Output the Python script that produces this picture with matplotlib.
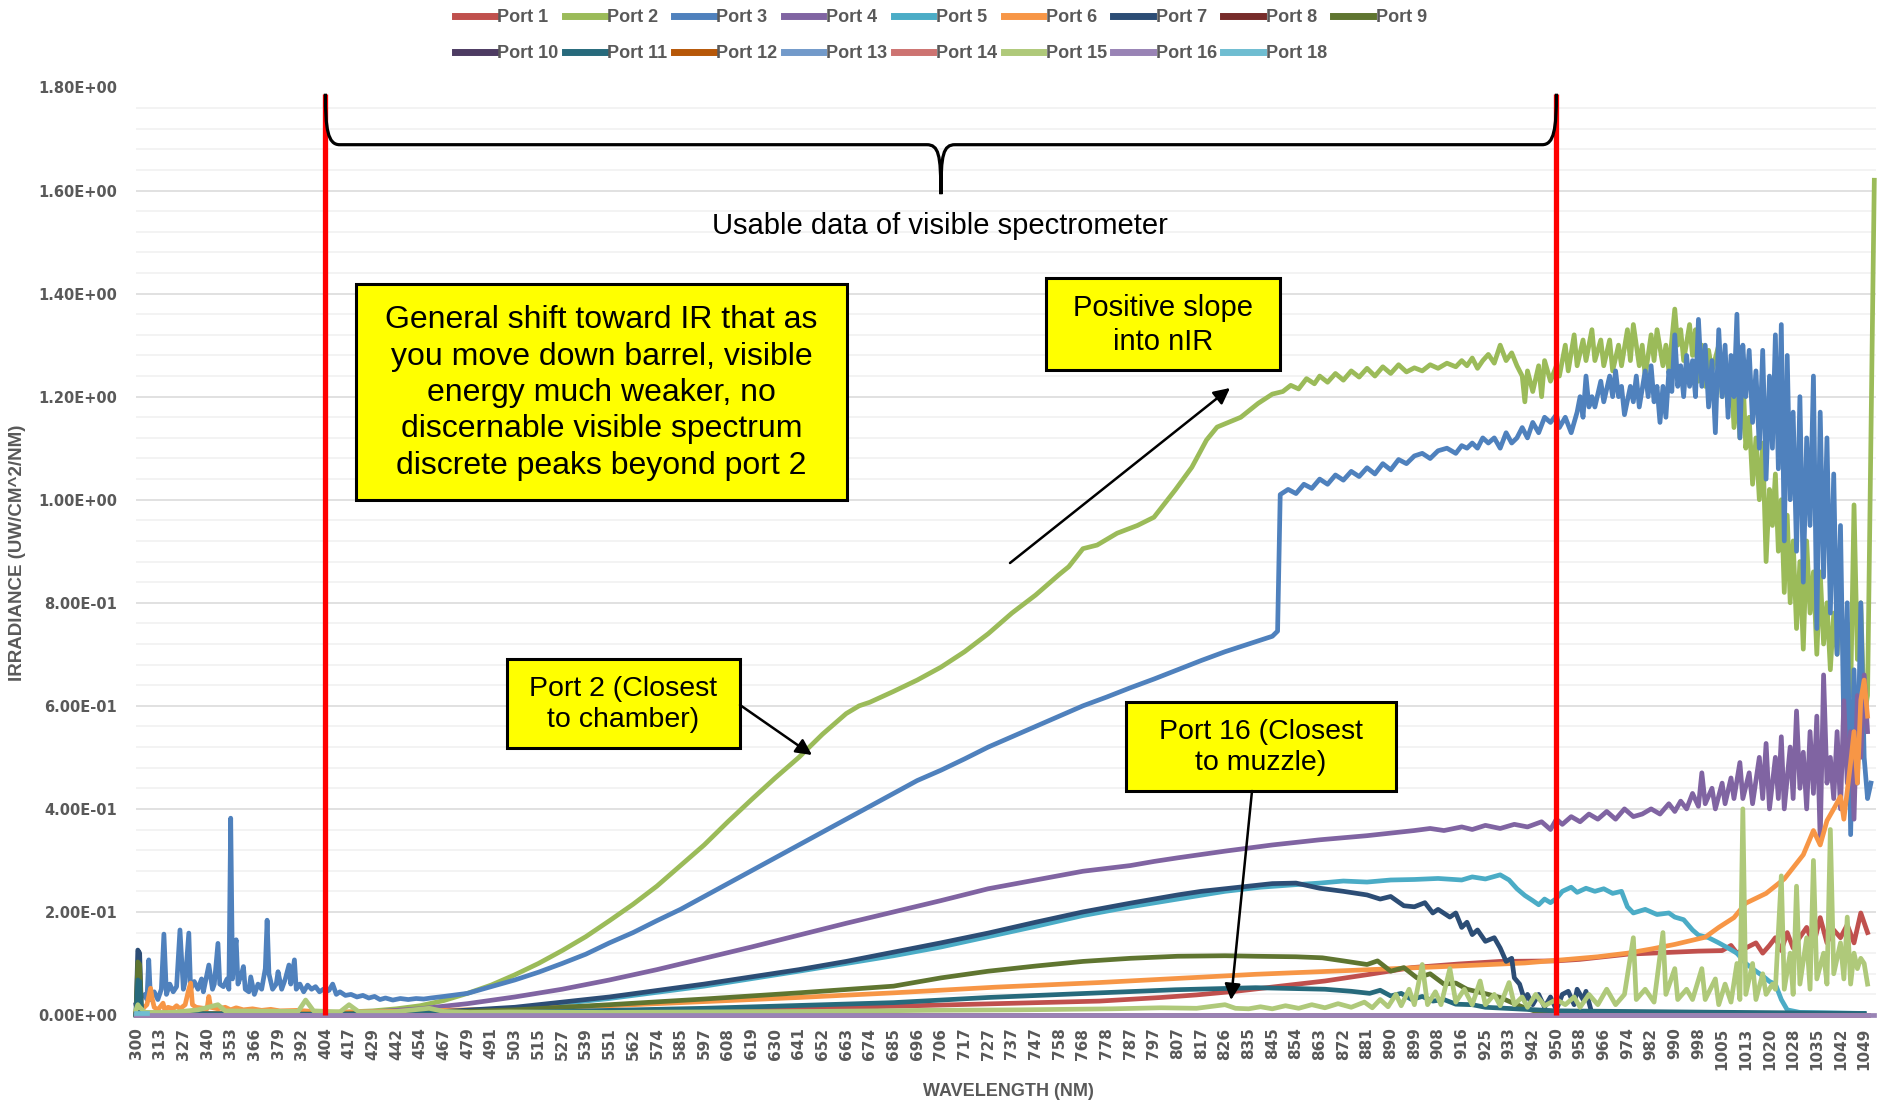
import matplotlib.pyplot as plt
import numpy as np
from matplotlib import patches
from matplotlib.path import Path
from matplotlib.ticker import MultipleLocator

# wavelength shown under every tick of the category axis (nm)
tick_nm = [300, 313, 327, 340, 353, 366, 379, 392, 404, 417, 429, 442, 454, 467, 479, 491,
           503, 515, 527, 539, 551, 562, 574, 585, 597, 608, 619, 630, 641, 652, 663, 674,
           685, 696, 706, 717, 727, 737, 747, 758, 768, 778, 787, 797, 807, 817, 826, 835,
           845, 854, 863, 872, 881, 890, 899, 908, 916, 925, 933, 942, 950, 958, 966, 974,
           982, 990, 998, 1005, 1013, 1020, 1028, 1035, 1042, 1049]

# band of usable data (red markers)
usable_nm = [404, 950]

# irradiance readings (nm, uW/cm^2/nm)
port1 = [(300, 0.02), (301, 0.004), (404, 0.002), (503, 0.004), (597, 0.008), (685, 0.017),
         (775, 0.027), (800, 0.034), (815, 0.039), (830, 0.046), (848, 0.056), (865, 0.066),
         (882, 0.079), (898, 0.092), (915, 0.099), (930, 0.104), (950, 0.105), (958, 0.108),
         (966, 0.113), (974, 0.118), (982, 0.12), (990, 0.122), (998, 0.124), (1005, 0.125),
         (1008, 0.135), (1010, 0.12), (1013, 0.13), (1016, 0.14), (1018, 0.12), (1020, 0.135),
         (1022, 0.15), (1024, 0.125), (1026, 0.16), (1028, 0.13), (1030, 0.151), (1032, 0.17),
         (1034, 0.135), (1036, 0.189), (1038, 0.14), (1040, 0.165), (1042, 0.15), (1044, 0.175),
         (1046, 0.14), (1048, 0.198), (1050, 0.16)]

port2 = [(300, 0.003), (350, 0.002), (404, 0.005), (417, 0.006), (429, 0.008), (442, 0.012),
         (454, 0.018), (467, 0.028), (479, 0.042), (491, 0.058), (503, 0.078), (515, 0.10),
         (527, 0.125), (539, 0.152), (551, 0.183), (562, 0.215), (574, 0.25), (585, 0.29),
         (597, 0.33), (608, 0.375), (619, 0.418), (630, 0.46), (641, 0.50), (652, 0.545),
         (663, 0.585), (669, 0.60), (674, 0.607), (685, 0.628), (696, 0.65), (706, 0.675),
         (717, 0.705), (727, 0.74), (737, 0.78), (747, 0.815), (758, 0.855), (762, 0.87),
         (768, 0.905), (774, 0.912), (782, 0.935), (790, 0.95), (797, 0.966), (806, 1.019),
         (813, 1.063), (819, 1.116), (823, 1.141), (832, 1.16), (839, 1.187), (845, 1.205),
         (849, 1.21), (852, 1.222), (855, 1.215), (858, 1.235), (861, 1.225), (863, 1.24),
         (866, 1.228), (869, 1.245), (872, 1.232), (875, 1.25), (878, 1.238), (881, 1.255),
         (884, 1.24), (887, 1.258), (890, 1.245), (893, 1.262), (896, 1.248),
         (899, 1.256), (902, 1.25), (905, 1.262), (908, 1.255), (911, 1.265), (914, 1.258),
         (916, 1.27), (918, 1.26), (920, 1.275), (922, 1.255), (924, 1.27), (926, 1.282),
         (928, 1.265), (930, 1.30), (932, 1.27), (934, 1.285), (936, 1.26), (938, 1.24),
         (939, 1.19), (940, 1.25), (942, 1.21), (944, 1.26), (945, 1.20), (946, 1.27),
         (948, 1.23), (950, 1.26), (951, 1.24), (953, 1.30), (954, 1.25), (956, 1.32),
         (957, 1.26), (959, 1.31), (960, 1.27), (962, 1.33), (963, 1.27), (965, 1.31),
         (966, 1.26), (968, 1.31), (969, 1.25), (971, 1.30), (972, 1.26), (974, 1.33),
         (975, 1.27), (976, 1.34), (978, 1.26), (979, 1.30), (980, 1.24), (982, 1.32),
         (983, 1.27), (984, 1.33), (986, 1.26), (987, 1.30), (988, 1.25), (989, 1.31),
         (990, 1.37), (991, 1.30), (992, 1.33), (993, 1.27), (995, 1.34), (996, 1.28),
         (997, 1.33), (998, 1.23), (999, 1.30), (1000, 1.22), (1001, 1.29), (1002, 1.25),
         (1004, 1.30), (1005, 1.20), (1006, 1.27), (1007, 1.18), (1008, 1.26), (1009, 1.14),
         (1010, 1.22), (1011, 1.12), (1012, 1.25), (1013, 1.10), (1014, 1.16), (1015, 1.03),
         (1016, 1.12), (1017, 1.00), (1018, 1.11), (1019, 0.88), (1020, 1.02), (1021, 0.95),
         (1022, 1.05), (1023, 0.90), (1024, 1.00), (1025, 0.82), (1026, 0.97), (1027, 0.80),
         (1028, 0.92), (1029, 0.75), (1030, 0.88), (1031, 0.71), (1032, 0.92), (1033, 0.78),
         (1034, 0.86), (1035, 0.70), (1036, 0.86), (1037, 0.72), (1038, 0.80), (1039, 0.67),
         (1040, 0.78), (1041, 0.70), (1042, 0.82), (1043, 0.68), (1044, 0.76), (1045, 0.62),
         (1046, 0.99), (1047, 0.69), (1048, 0.80), (1049, 0.58), (1050, 0.62), (1052, 1.62)]

port3 = [(300, 0.02), (301, 0.005), (303, 0.035), (305, 0.04), (306, 0.03), (307, 0.107),
         (308, 0.03), (310, 0.045), (312, 0.03), (314, 0.05), (315.5, 0.157), (317, 0.04),
         (319, 0.06), (321, 0.045), (323, 0.055), (325, 0.165), (327, 0.05), (328, 0.065),
         (330, 0.159), (331, 0.05), (333, 0.065), (335, 0.05), (337, 0.07), (338, 0.045),
         (340, 0.08), (341, 0.097), (343, 0.05), (344, 0.06), (346, 0.139), (347, 0.06),
         (349, 0.055), (351, 0.07), (352, 0.05), (353, 0.382), (354, 0.07), (355, 0.12),
         (356, 0.146), (357, 0.06), (359, 0.08), (360, 0.094), (361, 0.05), (363, 0.045),
         (364, 0.074), (366, 0.04), (368, 0.06), (370, 0.05), (372, 0.09), (373, 0.184),
         (374, 0.08), (376, 0.05), (378, 0.06), (379, 0.084), (381, 0.05), (383, 0.07),
         (385, 0.097), (386, 0.06), (388, 0.107), (389, 0.05), (391, 0.06), (393, 0.045),
         (395, 0.058), (397, 0.05), (399, 0.055), (401, 0.045), (403, 0.05), (404, 0.045),
         (406, 0.048), (408, 0.06), (410, 0.04), (412, 0.045), (415, 0.038), (418, 0.04),
         (421, 0.035), (424, 0.038), (427, 0.033), (430, 0.036), (433, 0.03), (436, 0.033),
         (440, 0.029), (444, 0.032), (448, 0.03), (452, 0.032), (456, 0.031), (460, 0.033),
         (467, 0.036), (479, 0.042), (491, 0.055), (503, 0.068), (515, 0.083), (527, 0.10),
         (539, 0.118), (551, 0.14), (562, 0.16), (574, 0.183), (585, 0.205), (597, 0.23),
         (608, 0.255), (619, 0.28), (630, 0.305), (641, 0.33), (652, 0.355), (663, 0.38),
         (674, 0.405), (685, 0.43), (696, 0.455), (706, 0.475), (717, 0.497), (727, 0.52),
         (737, 0.54), (747, 0.56), (758, 0.58), (768, 0.60), (778, 0.617), (787, 0.635),
         (797, 0.652), (807, 0.67), (817, 0.688), (826, 0.705), (835, 0.72), (845, 0.735),
         (847, 0.745), (848, 1.01), (851, 1.02), (854, 1.012), (857, 1.03), (860, 1.022),
         (863, 1.04), (866, 1.03), (869, 1.048), (872, 1.038), (875, 1.055), (878, 1.045),
         (881, 1.062), (884, 1.05), (887, 1.07), (890, 1.058), (893, 1.078), (896, 1.07),
         (899, 1.085), (902, 1.09), (905, 1.08), (908, 1.095), (911, 1.10),
         (914, 1.09), (916, 1.105), (918, 1.10), (920, 1.11), (922, 1.10), (924, 1.12),
         (926, 1.11), (928, 1.12), (930, 1.10), (932, 1.13), (934, 1.11), (936, 1.12),
         (938, 1.14), (940, 1.12), (942, 1.15), (944, 1.13), (946, 1.16), (948, 1.15),
         (950, 1.165), (951, 1.14), (953, 1.16), (955, 1.13), (957, 1.17), (958, 1.20),
         (959, 1.16), (960, 1.24), (961, 1.18), (962, 1.20), (963, 1.18), (965, 1.23),
         (966, 1.19), (968, 1.24), (969, 1.20), (970, 1.25), (971, 1.20), (972, 1.22),
         (973, 1.165), (975, 1.22), (976, 1.19), (977, 1.24), (978, 1.18), (980, 1.25),
         (981, 1.20), (982, 1.26), (983, 1.19), (984, 1.22), (985, 1.15), (986, 1.22),
         (987, 1.16), (988, 1.25), (989, 1.21), (990, 1.32), (991, 1.22), (992, 1.26),
         (993, 1.20), (994, 1.28), (995, 1.22), (996, 1.27), (997, 1.20), (998, 1.35),
         (999, 1.22), (1000, 1.30), (1001, 1.18), (1002, 1.27), (1003, 1.13), (1004, 1.33),
         (1005, 1.20), (1006, 1.30), (1007, 1.16), (1008, 1.28), (1009, 1.20), (1010, 1.36),
         (1011, 1.12), (1012, 1.30), (1013, 1.20), (1014, 1.29), (1015, 1.15), (1016, 1.25),
         (1017, 1.10), (1018, 1.29), (1019, 1.04), (1020, 1.24), (1021, 1.10), (1022, 1.32),
         (1023, 1.06), (1024, 1.34), (1025, 0.92), (1026, 1.28), (1027, 1.00), (1028, 1.17),
         (1029, 0.90), (1030, 1.20), (1031, 0.84), (1032, 1.12), (1033, 0.95), (1034, 1.24),
         (1035, 0.75), (1036, 1.17), (1037, 0.85), (1038, 1.12), (1039, 0.78), (1040, 1.05),
         (1041, 0.70), (1042, 0.95), (1043, 0.55), (1044, 0.80), (1045, 0.35), (1046, 0.67),
         (1047, 0.45), (1048, 0.80), (1049, 0.50), (1050, 0.42), (1051, 0.45)]

port4 = [(300, 0.0), (404, 0.003), (429, 0.006), (454, 0.012), (479, 0.022), (503, 0.035),
         (527, 0.05), (551, 0.068), (574, 0.088), (597, 0.11), (619, 0.132), (641, 0.155),
         (663, 0.178), (685, 0.20), (706, 0.222), (727, 0.245), (747, 0.262), (768, 0.279),
         (787, 0.29), (797, 0.298), (807, 0.305), (826, 0.318), (845, 0.33), (863, 0.34),
         (881, 0.348), (890, 0.353), (899, 0.358), (905, 0.362), (910, 0.358), (916, 0.365),
         (920, 0.36), (925, 0.368), (930, 0.362), (935, 0.37), (940, 0.365), (945, 0.375),
         (948, 0.36), (950, 0.38), (952, 0.37), (955, 0.385), (958, 0.375), (961, 0.39),
         (964, 0.38), (967, 0.395), (970, 0.38), (973, 0.40), (976, 0.385), (979, 0.39),
         (982, 0.40), (985, 0.39), (988, 0.41), (990, 0.395), (992, 0.415), (994, 0.40),
         (996, 0.43), (998, 0.405), (999, 0.47), (1000, 0.41), (1002, 0.44), (1003, 0.40),
         (1005, 0.45), (1006, 0.41), (1008, 0.46), (1009, 0.42), (1011, 0.49), (1012, 0.42),
         (1014, 0.47), (1015, 0.41), (1017, 0.50), (1018, 0.42), (1019, 0.527), (1020, 0.40),
         (1022, 0.50), (1023, 0.42), (1024, 0.54), (1025, 0.40), (1027, 0.52), (1028, 0.42),
         (1029, 0.59), (1030, 0.44), (1031, 0.51), (1032, 0.40), (1033, 0.55), (1034, 0.43),
         (1035, 0.58), (1036, 0.34), (1037, 0.66), (1038, 0.45), (1039, 0.50), (1040, 0.42),
         (1041, 0.55), (1042, 0.40), (1043, 0.61), (1044, 0.45), (1045, 0.55), (1046, 0.38),
         (1047, 0.62), (1048, 0.50), (1049, 0.66), (1050, 0.55)]

port5 = [(300, 0.0), (404, 0.001), (454, 0.004), (503, 0.013), (551, 0.032), (597, 0.056),
         (641, 0.085), (663, 0.10), (685, 0.115), (706, 0.132), (727, 0.152), (747, 0.172),
         (768, 0.193), (787, 0.21), (807, 0.225), (826, 0.24), (840, 0.248), (854, 0.253),
         (863, 0.256), (872, 0.26), (881, 0.258), (890, 0.262), (899, 0.263), (908, 0.265),
         (916, 0.262), (920, 0.268), (925, 0.264), (930, 0.272), (933, 0.262), (936, 0.245),
         (939, 0.232), (942, 0.222), (944, 0.214), (946, 0.225), (948, 0.218), (950, 0.226),
         (952, 0.24), (955, 0.248), (957, 0.238), (960, 0.246), (963, 0.24), (966, 0.245),
         (969, 0.236), (972, 0.24), (974, 0.21), (976, 0.198), (980, 0.205), (984, 0.195),
         (988, 0.198), (990, 0.19), (993, 0.185), (996, 0.165), (998, 0.155), (1001, 0.15),
         (1004, 0.14), (1007, 0.13), (1010, 0.12), (1013, 0.10), (1016, 0.085), (1018, 0.076),
         (1020, 0.065), (1022, 0.06), (1024, 0.03), (1026, 0.01), (1030, 0.005), (1049, 0.003)]

port6 = [(300, 0.005), (303, 0.01), (306, 0.02), (308, 0.052), (309, 0.03), (310, 0.015),
         (312, 0.01), (315, 0.023), (316, 0.01), (318, 0.015), (321, 0.012), (323, 0.018),
         (325, 0.012), (328, 0.02), (330, 0.05), (331, 0.062), (332, 0.02), (334, 0.015),
         (340, 0.012), (341, 0.036), (342, 0.015), (346, 0.012), (350, 0.015), (353, 0.01),
         (356, 0.014), (360, 0.01), (365, 0.012), (370, 0.009), (375, 0.011), (380, 0.008),
         (390, 0.009), (404, 0.005), (454, 0.008), (503, 0.012), (551, 0.018), (597, 0.026),
         (641, 0.034), (685, 0.043), (730, 0.054), (775, 0.063), (838, 0.079), (882, 0.088),
         (914, 0.095), (939, 0.101), (954, 0.108), (964, 0.113), (974, 0.12), (982, 0.128),
         (990, 0.137), (1000, 0.151), (1004, 0.17), (1009, 0.189), (1013, 0.217),
         (1019, 0.236), (1025, 0.264), (1031, 0.311), (1034, 0.358), (1036, 0.33),
         (1038, 0.377), (1040, 0.40), (1042, 0.424), (1043, 0.38), (1045, 0.49),
         (1046, 0.55), (1047, 0.45), (1048, 0.611), (1049, 0.65), (1050, 0.58)]

port7 = [(300, 0.002), (301, 0.126), (302, 0.12), (303, 0.004), (310, 0.001), (404, 0.001),
         (454, 0.004), (503, 0.015), (551, 0.035), (597, 0.06), (641, 0.088), (663, 0.104),
         (685, 0.122), (706, 0.14), (727, 0.159), (747, 0.18), (768, 0.20), (787, 0.217),
         (807, 0.233), (817, 0.24), (826, 0.245), (835, 0.25), (845, 0.255), (854, 0.256),
         (863, 0.246), (872, 0.24), (881, 0.233), (886, 0.225), (890, 0.23), (895, 0.212),
         (899, 0.21), (903, 0.218), (906, 0.198), (908, 0.205), (912, 0.19), (914, 0.198),
         (916, 0.17), (918, 0.18), (920, 0.156), (922, 0.165), (925, 0.143), (928, 0.15),
         (930, 0.13), (932, 0.104), (934, 0.11), (935, 0.072), (937, 0.06), (939, 0.027),
         (940, 0.04), (942, 0.02), (944, 0.04), (946, 0.015), (948, 0.035), (950, 0.01),
         (952, 0.04), (954, 0.046), (956, 0.02), (957, 0.05), (959, 0.03), (960, 0.046),
         (962, 0.003), (1049, 0.0)]

port8 = [(300, 0.0), (1050, 0.0)]

port9 = [(300, 0.0), (301, 0.103), (302, 0.098), (303, 0.004), (320, 0.002), (404, 0.002),
         (454, 0.004), (503, 0.01), (551, 0.02), (597, 0.031), (641, 0.043), (685, 0.056),
         (706, 0.072), (727, 0.085), (747, 0.095), (768, 0.104), (787, 0.11), (807, 0.114),
         (826, 0.115), (838, 0.114), (854, 0.113), (864, 0.111), (872, 0.105), (881, 0.098),
         (885, 0.105), (890, 0.085), (895, 0.092), (900, 0.072), (905, 0.08), (910, 0.06),
         (914, 0.062), (918, 0.05), (922, 0.045), (926, 0.04), (930, 0.034), (935, 0.022),
         (939, 0.014), (944, 0.005), (950, 0.003), (1049, 0.0)]

port10 = [(300, 0.0), (1050, 0.0)]

port11 = [(300, 0.0), (301, 0.068), (302, 0.065), (303, 0.003), (404, 0.001), (503, 0.005),
          (597, 0.013), (685, 0.024), (727, 0.034), (775, 0.043), (806, 0.049), (838, 0.053),
          (865, 0.05), (875, 0.046), (882, 0.042), (886, 0.048), (890, 0.037), (894, 0.042),
          (898, 0.03), (902, 0.036), (906, 0.027), (910, 0.03), (914, 0.021), (920, 0.02),
          (925, 0.015), (950, 0.008), (1049, 0.003)]

port12 = [(300, 0.0), (1050, 0.0)]
port13 = [(300, 0.0), (1050, 0.0)]
port14 = [(300, 0.0), (1050, 0.0)]

port15 = [(300, 0.01), (301, 0.02), (302, 0.015), (305, 0.005), (320, 0.005), (335, 0.01),
          (346, 0.02), (350, 0.008), (390, 0.007), (394, 0.029), (398, 0.008), (412, 0.006),
          (417, 0.02), (422, 0.006), (440, 0.006), (459, 0.013), (467, 0.007), (480, 0.005),
          (500, 0.006), (550, 0.005), (600, 0.006), (650, 0.007), (700, 0.009), (740, 0.01),
          (780, 0.012), (800, 0.014), (815, 0.013), (826, 0.02), (830, 0.013), (835, 0.012),
          (840, 0.016), (845, 0.012), (850, 0.018), (855, 0.013), (860, 0.02), (865, 0.014),
          (870, 0.022), (875, 0.015), (880, 0.025), (883, 0.014), (886, 0.03), (889, 0.016),
          (892, 0.04), (894, 0.018), (897, 0.05), (899, 0.02), (902, 0.098), (904, 0.02),
          (907, 0.045), (909, 0.02), (912, 0.09), (914, 0.025), (917, 0.05), (920, 0.02),
          (923, 0.066), (925, 0.02), (928, 0.04), (930, 0.018), (933, 0.063), (935, 0.02),
          (938, 0.035), (940, 0.015), (943, 0.04), (946, 0.018), (950, 0.03), (953, 0.02),
          (956, 0.035), (958, 0.015), (961, 0.04), (964, 0.02), (967, 0.05), (970, 0.02),
          (973, 0.04), (976, 0.15), (977, 0.03), (980, 0.05), (983, 0.025), (986, 0.16),
          (987, 0.04), (990, 0.09), (991, 0.03), (994, 0.05), (996, 0.03), (999, 0.09),
          (1000, 0.03), (1003, 0.07), (1004, 0.02), (1006, 0.06), (1008, 0.025), (1010, 0.10),
          (1011, 0.03), (1012, 0.40), (1013, 0.04), (1015, 0.10), (1016, 0.03), (1018, 0.08),
          (1019, 0.04), (1021, 0.06), (1022, 0.05), (1024, 0.27), (1025, 0.05), (1027, 0.12),
          (1028, 0.04), (1029, 0.25), (1030, 0.06), (1032, 0.15), (1033, 0.05), (1034, 0.30),
          (1035, 0.07), (1037, 0.12), (1038, 0.06), (1039, 0.36), (1040, 0.08), (1042, 0.14),
          (1043, 0.07), (1044, 0.19), (1045, 0.06), (1046, 0.12), (1047, 0.09), (1048, 0.11),
          (1049, 0.10), (1050, 0.06)]

port16 = [(300, 0.0), (1052, 0.0)]
port18 = [(300, 0.003), (306, 0.003)]

series = [
    ("Port 1", port1, "#C0504D"),
    ("Port 2", port2, "#9BBB59"),
    ("Port 3", port3, "#4F81BD"),
    ("Port 4", port4, "#8064A2"),
    ("Port 5", port5, "#4BACC6"),
    ("Port 6", port6, "#F79646"),
    ("Port 7", port7, "#2C4D75"),
    ("Port 8", port8, "#772C2A"),
    ("Port 9", port9, "#5F7530"),
    ("Port 10", port10, "#4D3B62"),
    ("Port 11", port11, "#276A7C"),
    ("Port 12", port12, "#B65708"),
    ("Port 13", port13, "#729ACA"),
    ("Port 14", port14, "#CD7371"),
    ("Port 15", port15, "#AFC97A"),
    ("Port 16", port16, "#9983B5"),
    ("Port 18", port18, "#6FBDD1"),
]

W, H = 1879, 1101
TEXT_GRAY = "#595959"
ANNOT_FONT = "Liberation Sans"


def to_pos(nm):
    """Map wavelengths onto the category axis (one unit per labelled tick)."""
    grid = tick_nm + [1056]  # one extra step so the last few readings past 1049 fit
    return np.interp(nm, grid, np.arange(len(grid)))


fig = plt.figure(figsize=(W / 100, H / 100), dpi=100)
ax = fig.add_axes([136 / W, 1 - 1015 / H, 1740 / W, (1015 - 87.5) / H])

lines = []
for name, pts, color in series:
    nm, val = zip(*pts)
    (ln,) = ax.plot(to_pos(nm), val, color=color, lw=3.4, label=name,
                    solid_joinstyle="round", clip_on=False, zorder=2)
    lines.append(ln)

# red markers for the usable range of the visible spectrometer
ax.vlines(to_pos(usable_nm), 0, 1.788, color="#FF0000", lw=3.8, zorder=4, clip_on=False)

ax.set_xlim(0, 73.5)
ax.set_ylim(0, 1.8)
ax.set_xticks(np.arange(len(tick_nm)))
ax.set_xticklabels([str(v) for v in tick_nm], rotation=90, fontsize=11,
                   fontweight="bold", color=TEXT_GRAY)
ax.yaxis.set_minor_locator(MultipleLocator(0.04))
ax.set_yticks(np.arange(0, 1.81, 0.2))
ax.set_yticklabels([f"{v:.2E}" for v in np.arange(0, 1.81, 0.2)], fontsize=10.5,
                   fontweight="bold", color=TEXT_GRAY)
ax.tick_params(axis="x", length=0, pad=9)
ax.tick_params(axis="y", which="both", length=0, pad=13.5)
ax.grid(axis="y", which="major", color="#D9D9D9", lw=1.1, zorder=0)
ax.grid(axis="y", which="minor", color="#F0F0F0", lw=1.1, zorder=0)
ax.set_axisbelow(True)
for sp in ax.spines.values():
    sp.set_visible(False)

# brace over the usable range
x0, x1 = to_pos(usable_nm)
xm = (x0 + x1) / 2
r = 0.6
brace = Path(
    [(x0, 1.788), (x0, 1.72), (x0 + 0.1, 1.689), (x0 + r, 1.689),
     (xm - r, 1.689),
     (xm - 0.1, 1.689), (xm, 1.67), (xm, 1.593),
     (xm, 1.67), (xm + 0.1, 1.689), (xm + r, 1.689),
     (x1 - r, 1.689),
     (x1 - 0.1, 1.689), (x1, 1.72), (x1, 1.788)],
    [Path.MOVETO, Path.CURVE4, Path.CURVE4, Path.CURVE4,
     Path.LINETO,
     Path.CURVE4, Path.CURVE4, Path.CURVE4,
     Path.CURVE4, Path.CURVE4, Path.CURVE4,
     Path.LINETO,
     Path.CURVE4, Path.CURVE4, Path.CURVE4])
ax.add_patch(patches.PathPatch(brace, fc="none", ec="black", lw=2.3, zorder=5,
                               clip_on=False))

# overlay in pixel coordinates for the call-out boxes
over = fig.add_axes([0, 0, 1, 1], zorder=5)
over.set_xlim(0, W)
over.set_ylim(H, 0)
over.axis("off")

over.text(940, 226, "Usable data of visible spectrometer", ha="center", va="center",
          fontsize=21, family=ANNOT_FONT, color="black")

boxes = [
    ((356, 284, 491, 216), 23, "General shift toward IR that as\nyou move down barrel, visible\n"
     "energy much weaker, no\ndiscernable visible spectrum\ndiscrete peaks beyond port 2"),
    ((1046, 278, 234, 92), 21, "Positive slope\ninto nIR"),
    ((507, 659, 233, 89), 20.5, "Port 2 (Closest\nto chamber)"),
    ((1126, 702, 270, 89), 20.5, "Port 16 (Closest\nto muzzle)"),
]
for (bx, by, bw, bh), fs, txt in boxes:
    over.add_patch(patches.Rectangle((bx, by), bw, bh, fc="#FFFF00", ec="black", lw=2.2))
    over.text(bx + bw / 2, by + bh / 2 + 1, txt, ha="center", va="center", fontsize=fs,
              family=ANNOT_FONT, color="black", linespacing=1.28)

arrows = [((1010, 563), (1230, 388)), ((740, 705), (812, 755)), ((1252, 791), (1231, 1000))]
for tail, head in arrows:
    over.annotate("", xy=head, xytext=tail,
                  arrowprops=dict(arrowstyle="-|>", color="black", lw=1.8,
                                  mutation_scale=24, shrinkA=0, shrinkB=0))

# legend laid out in two rows like the original
order = [0, 9, 1, 10, 2, 11, 3, 12, 4, 13, 5, 14, 6, 15, 7, 16, 8]
fig.legend([lines[i] for i in order], [series[i][0] for i in order], ncol=9,
           loc="upper left", bbox_to_anchor=(455 / W, 1 - 9 / H), frameon=False,
           borderpad=0, borderaxespad=0, handlelength=2.2, handletextpad=0.15,
           columnspacing=0.35, labelspacing=1.05,
           prop={"family": ANNOT_FONT, "weight": "bold", "size": 13},
           labelcolor=TEXT_GRAY)
for h in fig.legends[0].legend_handles:
    h.set_linewidth(5)

fig.text(18 / W, 1 - 553 / H, "IRRADIANCE (UW/CM^2/NM)", rotation=90, ha="center",
         va="center", fontsize=13.5, fontweight="bold", family=ANNOT_FONT, color=TEXT_GRAY)
fig.text(1008 / W, 1 - 1091 / H, "WAVELENGTH (NM)", ha="center", va="center",
         fontsize=13, fontweight="bold", family=ANNOT_FONT, color=TEXT_GRAY)

fig.savefig("out.png", dpi=100)
